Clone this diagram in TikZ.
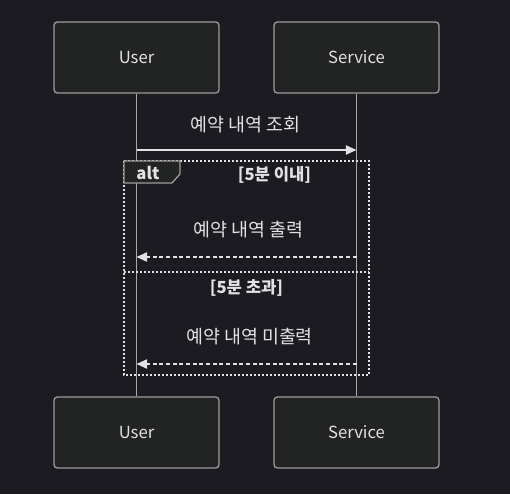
\documentclass[tikz,border=0pt]{standalone}
\usepackage{fontspec}
\setmainfont{Noto Sans CJK KR}
\usetikzlibrary{arrows.meta}
\definecolor{bg}{HTML}{1C1B21}
\definecolor{boxfill}{HTML}{222423}
\definecolor{boxline}{HTML}{9A9A9A}
\definecolor{txt}{HTML}{E2E2E2}
\definecolor{lifeline}{HTML}{A8A8A8}
\begin{document}
\begin{tikzpicture}[x=0.75pt,y=-0.75pt,
  actor/.style={draw=boxline, fill=boxfill, line width=1pt, rounded corners=2.5pt,
    minimum width=123.75pt, minimum height=53.25pt, inner sep=0pt, text=txt,
    font=\fontsize{12.5}{14}\selectfont},
  life/.style={draw=lifeline, line width=1.2pt},
  msgtext/.style={text=txt, font=\fontsize{13.8}{16}\selectfont, inner sep=0pt},
  syncmsg/.style={draw=txt, line width=1pt, -{Triangle[length=8pt,width=7pt]}},
  replymsg/.style={draw=txt, line width=1.2pt, dash pattern=on 3pt off 2pt, -{Triangle[length=8pt,width=7pt]}},
  framel/.style={draw=txt, line width=1.4pt, dash pattern=on 1.5pt off 1.5pt},
  altlabel/.style={draw=boxline, fill=boxfill, line width=1pt},
  condtext/.style={text=txt, font=\fontsize{12.5}{14}\selectfont\bfseries, inner sep=0pt}
]
\fill[bg] (0,0) rectangle (510,494);
\useasboundingbox (0,0) rectangle (510,494);

% actors
\node[actor] (ut) at (136.5,57.5) {User};
\node[actor] (st) at (356.5,57.5) {Service};
\node[actor] (ub) at (136.5,432.5) {User};
\node[actor] (sb) at (356.5,432.5) {Service};

% lifelines
\draw[life] (ut.south) -- (ub.north);
\draw[life] (st.south) -- (sb.north);

% message 1
\coordinate (m1a) at (136.5,150);
\coordinate (m1b) at (356.5,150);
\node[msgtext] (t1) at (245.5,125) {예약 내역 조회};
\draw[syncmsg] (m1a) -- (m1b);

% alt frame
\coordinate (fa) at (124,161);
\coordinate (fb) at (369,375);
\draw[framel] (fa) rectangle (fb);
\draw[altlabel] (124,161) -- (180,161) -- (180,174) -- (172,183) -- (124,183) -- cycle;
\node[condtext] (alt) at (148,173) {alt};
\node[condtext] (c1) at (274.5,175) {[5분 이내]};

% message 2
\node[msgtext] (t2) at (248.5,230) {예약 내역 출력};
\coordinate (m2a) at (356.5,257);
\coordinate (m2b) at (136.5,257);
\draw[replymsg] (m2a) -- (m2b);

% divider
\coordinate (da) at (124,272);
\coordinate (db) at (369,272);
\draw[framel] (da) -- (db);
\node[condtext] (c2) at (246.5,288) {[5분 초과]};

% message 3
\node[msgtext] (t3) at (249.5,337) {예약 내역 미출력};
\coordinate (m3a) at (356.5,364);
\coordinate (m3b) at (136.5,364);
\draw[replymsg] (m3a) -- (m3b);
\end{tikzpicture}
\end{document}
